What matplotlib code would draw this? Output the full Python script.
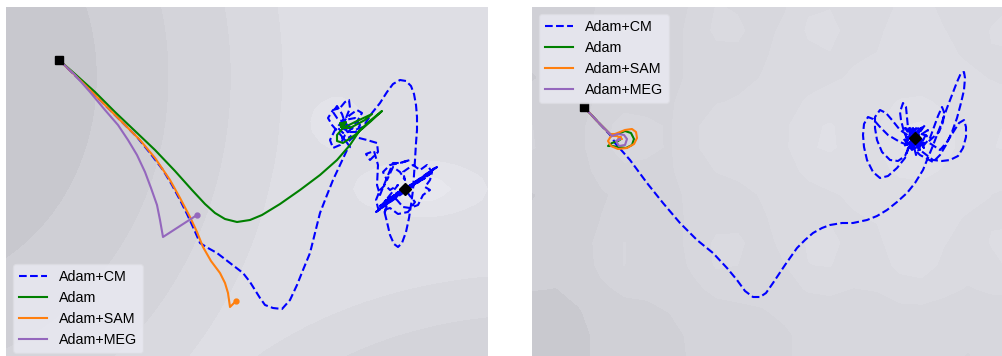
import numpy as np
import matplotlib.pyplot as plt
from matplotlib.colors import LinearSegmentedColormap

plt.rcParams['font.family'] = ['Liberation Sans', 'DejaVu Sans']
plt.rcParams['font.size'] = 10.3

# ---- trajectories, left landscape (x right, y down) ----
start_left = (59, 60)
min_left = (405, 189)

cm_left = np.array([
    (59, 60), (85, 85), (110, 110), (137, 137), (150, 153), (163, 170), (172, 185), (180, 200),
    (187, 214), (193, 227), (200, 243), (208, 248), (217, 253), (230, 263), (243, 273), (250, 282),
    (255, 290), (260, 298), (265, 305), (273, 308), (282, 309), (290, 300), (297, 285), (303, 270),
    (310, 253), (315, 233), (320, 213), (327, 195), (333, 180), (340, 165), (347, 150),
    (350, 147), (345, 140), (338, 132), (332, 125), (328, 118), (333, 110), (340, 108), (345, 102),
    (349, 100), (350, 108), (346, 118), (340, 124), (335, 130), (330, 140), (333, 148), (340, 145),
    (345, 135), (352, 128), (358, 120), (362, 113), (357, 110), (350, 115), (343, 122), (337, 118),
    (333, 112), (337, 106), (342, 114), (346, 126), (350, 132), (356, 132), (360, 125), (355, 118),
    (345, 120), (338, 128), (343, 133), (348, 126), (343, 120), (340, 127), (346, 130), (352, 138),
    (348, 142), (342, 138),
    (355, 137), (367, 140), (377, 143), (378, 152), (370, 160), (366, 154), (374, 151), (378, 165),
    (377, 185), (380, 195), (386, 180), (393, 163), (400, 163), (410, 160), (400, 163),
    (390, 165), (383, 172), (387, 180), (393, 167), (400, 172), (405, 180), (403, 172), (413, 165),
    (420, 170), (427, 165), (432, 172), (430, 180), (425, 187), (430, 190), (423, 195), (418, 205),
    (410, 208), (403, 207), (397, 200), (393, 197), (387, 205), (385, 212), (378, 208), (376, 200),
    (380, 190), (385, 185), (390, 190), (398, 185), (378, 210), (435, 168), (380, 206), (432, 171),
    (383, 205), (437, 167), (376, 212), (430, 174), (385, 201), (425, 178), (390, 198), (420, 180),
    (395, 194), (415, 184), (400, 191), (410, 187), (405, 189), (410, 196), (415, 202), (408, 212),
    (398, 214), (390, 208),
    (384, 210), (387, 222), (390, 235), (394, 244), (398, 247), (402, 243), (406, 232), (409, 218),
    (411, 205), (413, 190), (414, 175), (415, 160), (416, 143), (417, 130), (417, 117), (416, 105),
    (414, 94), (411, 86), (406, 81), (400, 80), (393, 84), (387, 92), (380, 103), (372, 113),
    (363, 127), (355, 130), (348, 126), (344, 128),
])

adam_left = np.array([
    (59, 60), (75, 74), (95, 92), (115, 112), (135, 131), (155, 150), (175, 171), (192, 190),
    (205, 204), (215, 213), (225, 219), (237, 222), (250, 220), (262, 215), (280, 204), (300, 190),
    (320, 175), (337, 160), (350, 145), (360, 130), (371, 120), (382, 111),
    (370, 122), (355, 135), (343, 143), (337, 141), (337, 135), (343, 128), (355, 122), (372, 114),
    (365, 120), (350, 128), (342, 128), (340, 124), (345, 122), (343, 126), (346, 122), (341, 127),
    (345, 128), (340, 123), (344, 124),
])

sam_left = np.array([
    (59, 60), (80, 80), (100, 100), (120, 120), (140, 140), (155, 158), (170, 180), (180, 198),
    (190, 217), (197, 232), (203, 247), (211, 261), (220, 273), (225, 283), (228, 293), (230, 307),
    (236, 301),
])

meg_left = np.array([
    (59, 60), (75, 75), (90, 92), (105, 110), (118, 125), (128, 140), (137, 155), (145, 172),
    (151, 188), (157, 205), (160, 220), (163, 237), (180, 226), (197, 215),
])

# ---- trajectories, right landscape ----
start_right = (584, 107)
min_right = (915, 138)

cm_right = np.array([
    (584, 107), (598, 122), (612, 137), (615, 143), (630, 160), (647, 183), (663, 203), (680, 223),
    (697, 240), (713, 253), (727, 268), (737, 280), (745, 291), (753, 297), (760, 297), (766, 293),
    (773, 283), (785, 265), (797, 248), (805, 240), (813, 233), (822, 228), (830, 225), (842, 223),
    (853, 223), (867, 220), (877, 216), (887, 210), (897, 202), (907, 193), (915, 183), (920, 175),
    (923, 170),
    (927, 160), (932, 148), (937, 135), (942, 122), (947, 108), (952, 95), (957, 82), (961, 73),
    (964, 72), (965, 78), (964, 90), (961, 103), (957, 118), (952, 132), (946, 145), (940, 155),
    (933, 162),
    (920, 155), (910, 145), (904, 132), (901, 120), (900, 112), (903, 103), (906, 107), (907, 117),
    (908, 128), (912, 140),
    (905, 156), (898, 161), (890, 160), (882, 152), (877, 140), (875, 128), (875, 117), (880, 110),
    (886, 113), (892, 120), (900, 130), (912, 138),
    (905, 158), (897, 168), (888, 176), (880, 178), (873, 172), (867, 160), (864, 147), (863, 135),
    (864, 124), (868, 117), (873, 119), (880, 127), (888, 135), (900, 142), (915, 148),
    (924, 145), (930, 138), (934, 127), (938, 116), (942, 107), (944, 112), (943, 122), (939, 132),
    (928, 142),
    (940, 150), (947, 142), (954, 131), (959, 123), (964, 120), (966, 127), (966, 137), (963, 148),
    (958, 156), (950, 160), (942, 161), (933, 160), (920, 150),
    (908, 132), (922, 128), (910, 145), (925, 143), (906, 140), (918, 126), (920, 150), (905, 128),
    (927, 136), (912, 150), (903, 138), (918, 135), (924, 148), (909, 126), (916, 155), (928, 130),
    (904, 146), (914, 131), (921, 140), (907, 150), (925, 125), (911, 137), (919, 146), (913, 128),
    (915, 138),
])

adam_right = np.array([
    (584, 107), (598, 122), (612, 136), (618, 134), (625, 131), (631, 133), (634, 139), (632, 145),
    (626, 148), (618, 147), (612, 146), (608, 146), (612, 143), (618, 141), (621, 139),
])

sam_right = np.array([
    (584, 107), (598, 122), (610, 134), (615, 134), (625, 130), (632, 129), (636, 132), (637, 138),
    (634, 144), (627, 148), (618, 149), (611, 146), (608, 141), (611, 136), (617, 136), (622, 139),
    (618, 139), (621, 137), (619, 140),
])

meg_right = np.array([
    (584, 107), (598, 122), (612, 136), (618, 134), (624, 135), (627, 139), (625, 145), (619, 146),
    (616, 141), (620, 139), (618, 140),
])

left_levels = [-4.0, -3.6, -3.0, -2.39, -1.77, -1.15, -0.6, 0.5]
right_levels = [-0.4, -0.08, 0.05, 0.18, 0.31, 0.44, 0.57, 0.7, 1.2]


# ---- loss surfaces ----
def left_loss(X, Y):
    u = (X - 6) / 482
    v = (356 - Y) / 349
    d_hill = ((u + 0.2) / 0.5) ** 2 + ((v - 0.8) / 0.78) ** 2
    d_low = ((u - 1.1) ** 2 + (v + 0.6) ** 2) / 0.29
    base = -np.minimum(np.minimum(d_hill, d_low), 2.6)
    w1 = np.exp(-(((u - 0.687) / 0.054) ** 2 + ((v - 0.668) / 0.072) ** 2))
    w2 = np.exp(-(((u - 0.86) / 0.13) ** 2 + ((v - 0.479) / 0.075) ** 2))
    return base - 1.2 * w1 - 1.3 * w2


def right_loss(X, Y):
    r = np.hypot((X - 915) / 1.1, Y - 138) / 300
    wells = ((1 + np.cos(2 * np.pi * (X - 915) / 98)) / 2
             * (1 + np.cos(2 * np.pi * (Y - 138) / 120)) / 2)
    return 0.6 * r - 0.16 * wells


greys = LinearSegmentedColormap.from_list('greys', ['#e9e9ef', '#c3c3c9'])

fig = plt.figure(figsize=(10.03, 3.56), dpi=100)
ax1 = fig.add_axes([6 / 1003, -4 / 356, 482 / 1003, 353 / 356])
ax2 = fig.add_axes([532 / 1003, -4 / 356, 482 / 1003, 353 / 356])

gx, gy = np.meshgrid(np.linspace(6, 488, 44), np.linspace(7, 360, 32))
ax1.contourf(gx, gy, left_loss(gx, gy), levels=left_levels, cmap=greys, extend='both')
hx, hy = np.meshgrid(np.linspace(532, 1014, 22), np.linspace(7, 360, 16))
ax2.contourf(hx, hy, right_loss(hx, hy), levels=right_levels, cmap=greys, extend='max')

for ax, cm, adam, sam, meg, st, mn, loc in [
    (ax1, cm_left, adam_left, sam_left, meg_left, start_left, min_left, 'lower left'),
    (ax2, cm_right, adam_right, sam_right, meg_right, start_right, min_right, 'upper left'),
]:
    ax.plot(cm[:, 0], cm[:, 1], '--', color='blue', lw=1.5, label='Adam+CM')
    ax.plot(adam[:, 0], adam[:, 1], color='green', lw=1.5, label='Adam')
    ax.plot(sam[:, 0], sam[:, 1], color='#ff7f0e', lw=1.5, label='Adam+SAM')
    ax.plot(meg[:, 0], meg[:, 1], color='#9467bd', lw=1.5, label='Adam+MEG')
    ax.plot(*st, 's', color='black', ms=6, zorder=5)
    ax.plot(*mn, 'D', color='black', ms=6, zorder=5)
    ax.legend(loc=loc, facecolor='#eaeaf2', edgecolor='#dcdce2', framealpha=0.8)
    ax.set_xticks([])
    ax.set_yticks([])
    for s in ax.spines.values():
        s.set_visible(False)

ax1.plot(*sam_left[-1], 'o', color='#ff7f0e', ms=3.5)
ax1.plot(*meg_left[-1], 'o', color='#9467bd', ms=3.5)

ax1.set_xlim(6, 488)
ax1.set_ylim(360, 7)
ax2.set_xlim(532, 1014)
ax2.set_ylim(360, 7)

fig.savefig('out.png', dpi=100)
